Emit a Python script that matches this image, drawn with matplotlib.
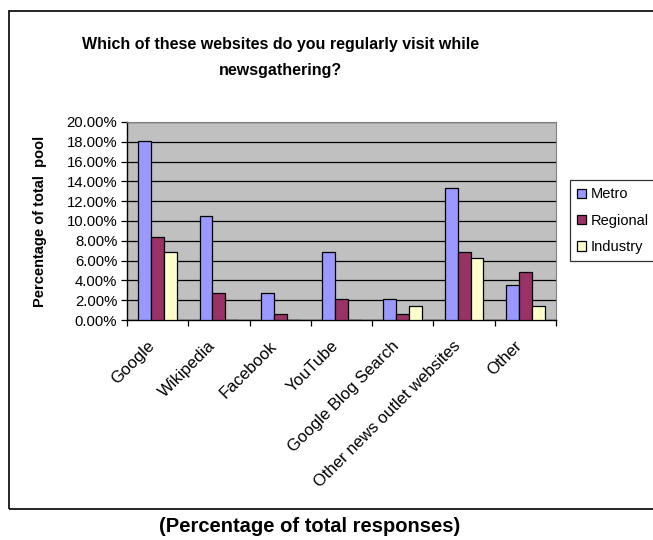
import numpy as np
import matplotlib
matplotlib.use("Agg")
import matplotlib.pyplot as plt
from matplotlib.patches import Rectangle
from matplotlib.ticker import FuncFormatter
from matplotlib.transforms import ScaledTranslation

categories = ["Google", "Wikipedia", "Facebook", "YouTube", "Google Blog Search",
              "Other news outlet websites", "Other"]
metro = [18.1, 10.5, 2.7, 6.9, 2.1, 13.3, 3.5]
regional = [8.4, 2.7, 0.6, 2.1, 0.6, 6.9, 4.8]
industry = [6.9, 0, 0, 0, 1.4, 6.3, 1.4]
series_names = ["Metro", "Regional", "Industry"]
colors = ["#9999FF", "#993366", "#FFFFCC"]

plt.rcParams["font.family"] = ["Liberation Sans", "DejaVu Sans"]

W, H = 653, 540
fig = plt.figure(figsize=(W / 100, H / 100), dpi=100)

# outer chart frame (runs off the right edge like the original)
fig.patches.append(Rectangle((9 / W, 1 - 509 / H), 1.2, (509 - 11) / H,
                             transform=fig.transFigure, fill=False,
                             edgecolor="black", linewidth=1.2))

ax = fig.add_axes([127 / W, 1 - 320 / H, (556 - 127) / W, (320 - 122) / H])
ax.set_facecolor("#C0C0C0")

x = np.arange(len(categories))
bw = 0.21
for i, (vals, name, c) in enumerate(zip([metro, regional, industry], series_names, colors)):
    ax.bar(x + (i - 1) * bw, vals, bw, color=c, edgecolor="black", linewidth=0.9,
           label=name, zorder=3)

ax.set_xlim(-0.5, len(categories) - 0.5)
ax.set_ylim(0, 20)
ax.set_yticks(np.arange(0, 21, 2))
ax.yaxis.set_major_formatter(FuncFormatter(lambda v, p: f"{v:.2f}%"))
ax.grid(axis="y", color="black", linewidth=0.9, zorder=1)
ax.set_axisbelow(True)

ax.set_xticks(x)
ax.set_xticklabels(categories, rotation=45, ha="right", va="top", rotation_mode="anchor")
ax.set_xticks(np.arange(-0.5, len(categories), 1), minor=True)
ax.tick_params(axis="x", which="major", length=0, pad=13, labelsize=12)
ax.tick_params(axis="x", which="minor", length=4, direction="out", width=0.9)
ax.tick_params(axis="y", length=4, direction="out", width=0.9, labelsize=10.7, pad=3)
shift = ScaledTranslation(-11 / 100, 0, fig.dpi_scale_trans)
for lab in ax.get_xticklabels():
    lab.set_transform(lab.get_transform() + shift)

for s in ["top", "right"]:
    ax.spines[s].set_color("#808080")
for s in ["left", "bottom"]:
    ax.spines[s].set_color("black")
    ax.spines[s].set_linewidth(1.0)

ax.set_ylabel("Percentage of total  pool", fontsize=10.5, fontweight="bold", labelpad=14)

fig.text(0.43, 1 - 44 / H, "Which of these websites do you regularly visit while",
         ha="center", va="center", fontsize=11.5, fontweight="bold")
fig.text(0.43, 1 - 70 / H, "newsgathering?",
         ha="center", va="center", fontsize=11.5, fontweight="bold")

leg = ax.legend(loc="upper left", bbox_to_anchor=(570 / W, 1 - 180 / H),
                bbox_transform=fig.transFigure, frameon=True, fancybox=False,
                edgecolor="black", fontsize=10.5, handlelength=0.6, handleheight=0.6,
                handletextpad=0.3, borderpad=0.5, labelspacing=0.85, borderaxespad=0)
leg.get_frame().set_linewidth(0.9)

fig.text(310 / W, 1 - 527 / H, "(Percentage of total responses)", ha="center", va="center",
         fontsize=14.5, fontweight="bold")

fig.savefig("out.png", dpi=100)
